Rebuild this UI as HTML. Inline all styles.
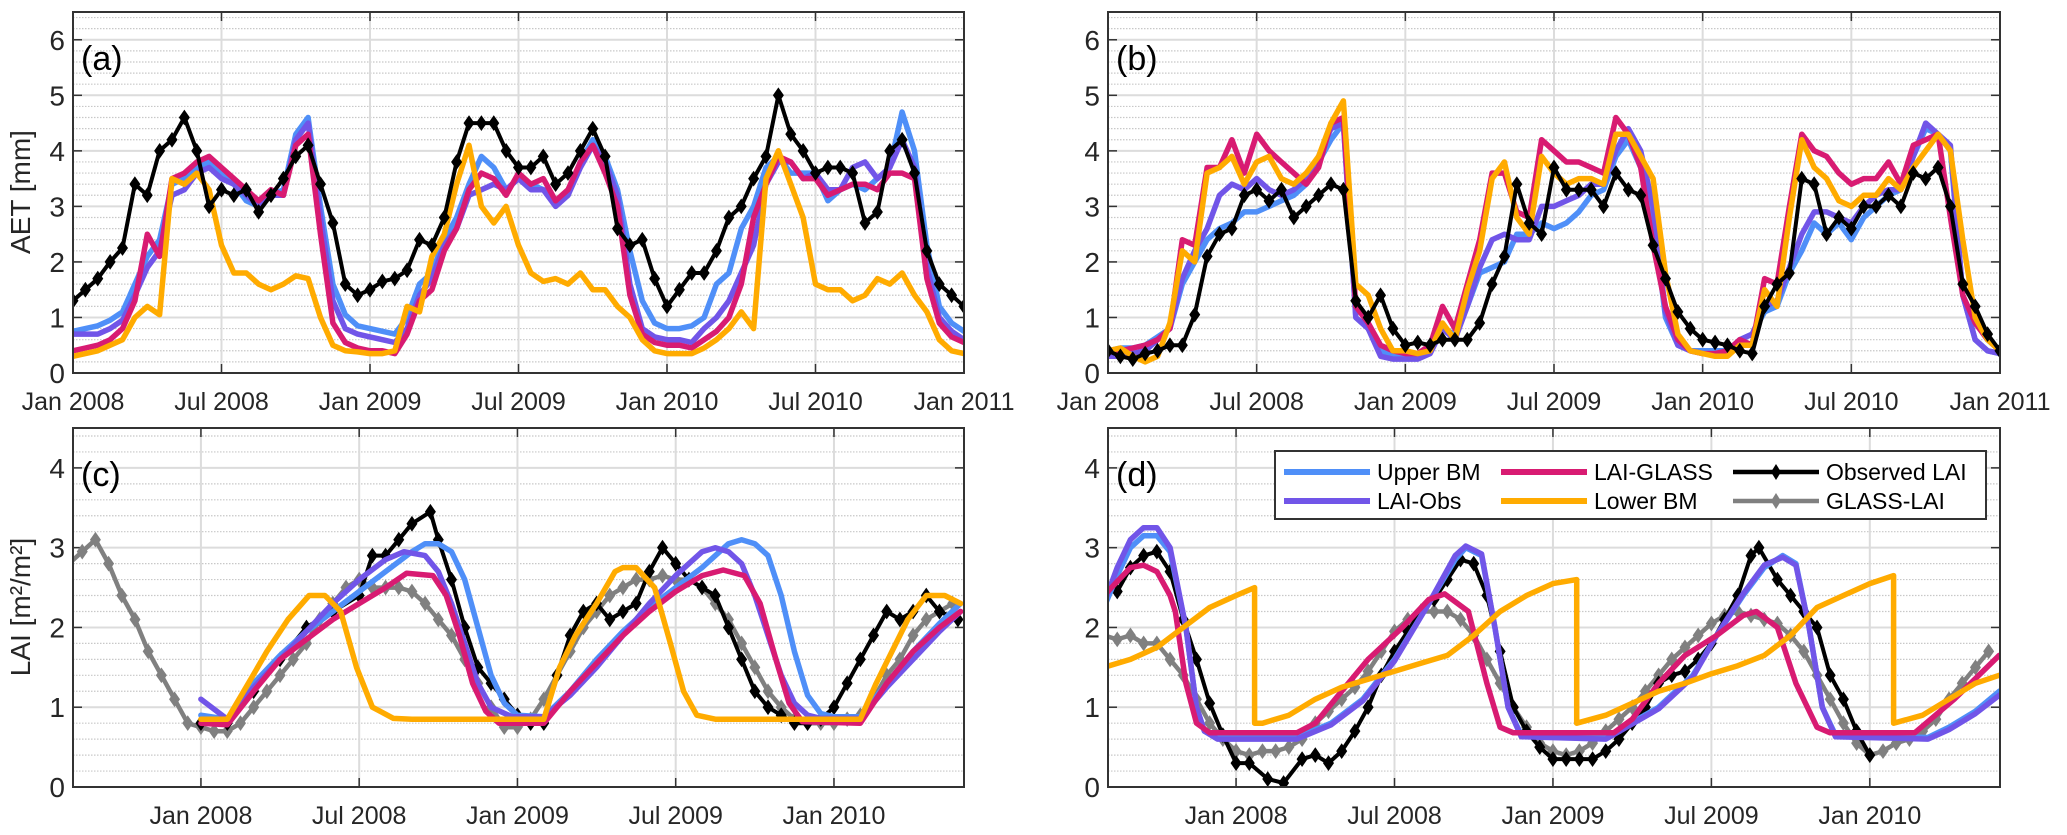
<!DOCTYPE html>
<html><head><meta charset="utf-8"><title>AET and LAI comparison</title>
<style>
html,body{margin:0;padding:0;background:#fff;}
svg{display:block;font-family:"Liberation Sans",Arial,sans-serif;}
</style></head>
<body>
<svg id="fig" width="2067" height="835" viewBox="0 0 2067 835" xmlns="http://www.w3.org/2000/svg"></svg>
<script>
// ---------- data: panels (a)/(b) AET, semi-monthly from Jan 2008 ----------
const aUpper=[.75,.8,.85,.95,1.1,1.6,2.1,2.4,3.4,3.5,3.7,3.8,3.6,3.4,3.1,3.0,3.2,3.3,4.3,4.6,3.0,1.6,1.05,.85,
 .8,.75,.7,1.0,1.6,1.8,2.4,2.8,3.4,3.9,3.7,3.3,3.5,3.4,3.3,3.1,3.2,3.8,4.2,3.9,3.3,2.2,1.3,.9,
 .8,.8,.85,1.0,1.6,1.8,2.6,3.0,3.7,3.9,3.6,3.6,3.6,3.1,3.3,3.4,3.3,3.5,3.7,4.7,4.0,2.3,1.2,.9,.75];
const aLaiObs=[.7,.7,.7,.8,.95,1.4,1.9,2.2,3.2,3.3,3.6,3.7,3.5,3.4,3.2,3.0,3.2,3.2,4.2,4.5,2.8,1.3,.8,.7,
 .65,.6,.55,.8,1.4,1.7,2.3,2.6,3.2,3.3,3.4,3.3,3.5,3.3,3.3,3.0,3.2,3.7,4.1,3.8,3.2,1.6,.8,.65,
 .6,.6,.55,.8,1.0,1.3,1.8,2.3,3.4,3.8,3.8,3.5,3.6,3.3,3.3,3.7,3.8,3.5,3.7,4.2,3.7,1.9,1.0,.75,.6];
const aLaiGlass=[.4,.45,.5,.6,.8,1.3,2.5,2.1,3.5,3.6,3.8,3.9,3.7,3.5,3.3,3.1,3.3,3.2,4.1,4.3,2.5,.9,.55,.45,
 .4,.4,.35,.7,1.3,1.5,2.2,2.6,3.3,3.6,3.5,3.2,3.6,3.4,3.5,3.1,3.3,3.8,4.1,3.6,3.0,1.4,.7,.55,
 .5,.5,.45,.6,.75,1.0,1.6,2.8,3.4,3.9,3.8,3.5,3.5,3.2,3.3,3.4,3.4,3.3,3.6,3.6,3.5,1.7,.9,.65,.55];
const aLower=[.3,.35,.4,.5,.6,1.0,1.2,1.05,3.5,3.4,3.6,3.3,2.3,1.8,1.8,1.6,1.5,1.6,1.75,1.7,1.0,.5,.4,.38,
 .35,.35,.4,1.2,1.1,2.1,2.5,3.4,4.1,3.0,2.7,3.0,2.3,1.8,1.65,1.7,1.6,1.8,1.5,1.5,1.2,1.0,.6,.4,
 .35,.35,.35,.45,.6,.8,1.1,.8,3.5,4.0,3.4,2.8,1.6,1.5,1.5,1.3,1.4,1.7,1.6,1.8,1.4,1.1,.6,.4,.35];
const aObs=[1.3,1.5,1.7,2.0,2.25,3.4,3.2,4.0,4.2,4.6,4.0,3.0,3.3,3.2,3.3,2.9,3.2,3.5,3.9,4.1,3.4,2.7,1.6,1.4,
 1.5,1.65,1.7,1.85,2.4,2.3,2.8,3.8,4.5,4.5,4.5,4.0,3.7,3.7,3.9,3.4,3.6,4.0,4.4,3.9,2.6,2.3,2.4,1.7,
 1.2,1.5,1.8,1.8,2.2,2.8,3.0,3.5,3.9,5.0,4.3,4.0,3.6,3.7,3.7,3.6,2.7,2.9,4.0,4.2,3.6,2.2,1.6,1.4,1.2];

const bUpper=[.4,.45,.45,.5,.65,.8,1.6,2.0,2.4,2.6,2.7,2.9,2.9,3.0,3.1,3.2,3.4,3.8,4.2,4.5,1.0,.8,.4,.3,
 .3,.3,.4,.8,.7,1.2,1.8,1.9,2.0,2.5,2.5,2.7,2.6,2.7,2.9,3.2,3.3,3.9,4.2,3.7,2.8,1.0,.5,.4,
 .4,.4,.4,.6,.7,1.1,1.2,1.8,2.2,2.7,2.5,2.7,2.4,2.8,3.0,3.2,3.3,3.9,4.4,4.3,4.0,1.4,.6,.4,.35];
const bLaiObs=[.3,.3,.35,.4,.6,.8,1.7,2.2,2.6,3.2,3.4,3.3,3.5,3.3,3.2,3.3,3.5,3.9,4.4,4.5,1.0,.8,.3,.25,
 .25,.25,.35,.8,.6,1.2,1.9,2.4,2.5,2.4,2.4,3.0,3.0,3.1,3.2,3.4,3.4,4.0,4.4,4.0,3.0,1.1,.5,.4,
 .35,.35,.35,.6,.7,1.2,1.3,1.9,2.5,2.9,2.9,2.8,2.7,3.0,3.2,3.3,3.3,3.9,4.5,4.3,4.1,1.4,.6,.4,.35];
const bLaiGlass=[.4,.4,.45,.5,.6,.8,2.4,2.3,3.7,3.7,4.2,3.6,4.3,4.0,3.8,3.6,3.4,3.7,4.5,4.6,1.2,.9,.5,.4,
 .35,.35,.5,1.2,.8,1.6,2.4,3.6,3.6,2.9,2.8,4.2,4.0,3.8,3.8,3.7,3.6,4.6,4.3,3.7,2.3,1.2,.6,.4,
 .35,.35,.4,.6,.5,1.7,1.6,3.0,4.3,4.0,3.9,3.6,3.4,3.5,3.5,3.8,3.4,4.1,4.2,4.3,2.8,1.4,.9,.6,.4];
const bLower=[.4,.45,.3,.2,.3,.9,2.2,2.0,3.6,3.7,3.9,3.4,3.8,3.9,3.5,3.4,3.6,3.9,4.5,4.9,1.6,1.4,.8,.4,
 .4,.35,.4,.9,.6,1.5,2.2,3.5,3.8,2.8,2.5,3.9,3.6,3.4,3.5,3.5,3.4,4.3,4.3,3.9,3.5,1.8,.7,.4,
 .35,.3,.3,.5,.5,1.5,1.2,2.8,4.2,3.7,3.5,3.1,3.0,3.2,3.2,3.5,3.3,3.7,4.0,4.3,4.0,2.4,1.0,.6,.4];
const bObs=[.4,.3,.25,.35,.4,.5,.5,1.05,2.1,2.5,2.6,3.2,3.3,3.1,3.3,2.8,3.0,3.2,3.4,3.3,1.3,1.0,1.4,.8,
 .5,.55,.5,.6,.6,.6,.9,1.6,2.1,3.4,2.7,2.5,3.7,3.3,3.3,3.3,3.0,3.6,3.3,3.2,2.3,1.7,1.1,.8,
 .6,.55,.5,.4,.35,1.2,1.6,1.8,3.5,3.4,2.5,2.8,2.6,3.0,3.0,3.2,3.0,3.6,3.5,3.7,3.0,1.6,1.2,.7,.4];

// ---------- data: panels (c)/(d) LAI; times in months from Jan 2008 ----------
const cGlassT=[-5,-4.5,-4,-3.5,-3,-2.5,-2,-1.5,-1,-0.5,0,0.5,1,1.5,2,2.5,3,3.5,4,4.5,5,5.5,6,6.5,7,7.5,8,8.5,9,9.5,10,10.5,11,11.5,12,12.5,13,13.5,14,14.5,15,15.5,16,16.5,17,17.5,18,18.5,19,19.5,20,20.5,21,21.5,22,22.5,23,23.5,24,24.5,25,25.5,26,26.5,27,27.5,28,28.5];
const cGlassV=[2.8,2.95,3.1,2.8,2.4,2.1,1.7,1.4,1.1,.8,.75,.7,.7,.8,1.0,1.2,1.4,1.6,1.8,2.1,2.3,2.5,2.6,2.5,2.5,2.5,2.45,2.3,2.1,1.9,1.6,1.3,1.0,.75,.75,.85,1.1,1.4,1.7,2.0,2.2,2.4,2.5,2.6,2.6,2.65,2.6,2.6,2.5,2.3,2.1,1.8,1.5,1.2,1.0,.85,.8,.8,.8,.85,.9,1.1,1.4,1.6,1.9,2.1,2.2,2.3];
const cObsT=[0,1,2,3,4,5,6,6.5,7,7.5,8,8.7,9,9.5,10,10.5,11,11.5,12,12.5,13,13.5,14,14.5,15,15.5,16,16.5,17,17.5,18,18.5,19,19.5,20,20.5,21,21.5,22,22.5,23,23.5,24,24.5,25,25.5,26,26.5,27,27.5,28,28.7];
const cObsV=[.8,.8,1.2,1.6,2.0,2.2,2.4,2.9,2.9,3.1,3.3,3.45,3.1,2.6,2.0,1.5,1.3,1.1,.9,.8,.8,1.4,1.9,2.2,2.3,2.1,2.2,2.3,2.7,3.0,2.8,2.6,2.5,2.4,2.0,1.6,1.2,1.0,.9,.8,.8,.85,1.0,1.3,1.6,1.9,2.2,2.1,2.2,2.4,2.2,2.1];
const cUpperT=[0,1,2,3,4,5,6,7,8,8.5,9,9.5,10,10.5,11,11.5,12,13,14,15,16,17,18,19,20,20.5,21,21.5,22,22.5,23,23.5,24,25,26,27,28,28.8];
const cUpperV=[.9,.85,1.3,1.65,1.95,2.2,2.45,2.7,2.95,3.05,3.05,2.95,2.6,2.0,1.4,1.05,.9,.88,1.2,1.6,1.95,2.25,2.5,2.75,3.05,3.1,3.05,2.9,2.4,1.7,1.15,.92,.88,.88,1.3,1.7,2.05,2.3];
const cLaiObsT=[0,1,2,3,4,5,6,7,7.7,8.5,9,9.5,10,10.5,11,11.8,13,14,15,16,17,18,19,19.5,20,20.5,21,21.5,22,22.5,23,23.5,25,26,27,28,28.8];
const cLaiObsV=[1.1,.85,1.25,1.6,1.95,2.3,2.6,2.85,2.95,2.9,2.7,2.3,1.8,1.3,1.0,.88,.88,1.15,1.5,1.9,2.3,2.65,2.95,3.0,2.95,2.8,2.4,1.9,1.4,1.05,.9,.86,.86,1.25,1.6,1.95,2.2];
const cLaiGlassT=[0,1,2,3,4,5,6,7,7.8,8.8,9.3,9.8,10.3,10.8,11.3,13,14,15,16,17,18,19,19.8,20.6,21.2,21.8,22.3,22.8,25,26,27,28,28.8];
const cLaiGlassV=[.8,.78,1.2,1.6,1.85,2.1,2.3,2.5,2.68,2.65,2.4,1.9,1.3,.95,.8,.8,1.2,1.55,1.9,2.2,2.45,2.65,2.72,2.65,2.3,1.6,1.05,.82,.8,1.3,1.7,2.0,2.2];
const cLowerT=[0,1,1.8,2.5,3.3,4.1,4.7,5.3,5.9,6.5,7.3,8,13,13.6,14.2,15,15.7,16,16.5,17.2,17.8,18.3,18.8,19.5,25,25.6,26.2,26.8,27.5,28.2,28.8];
const cLowerV=[.85,.85,1.3,1.7,2.1,2.4,2.4,2.2,1.5,1.0,.86,.85,.85,1.5,1.9,2.3,2.7,2.75,2.75,2.5,1.8,1.2,.9,.85,.85,1.3,1.7,2.1,2.4,2.4,2.3];

const dGlassT=cGlassT;
const dGlassV=[1.9,1.85,1.9,1.8,1.8,1.6,1.4,1.1,.8,.6,.45,.4,.45,.45,.5,.6,.8,.95,1.1,1.25,1.45,1.7,1.95,2.1,2.2,2.2,2.2,2.1,1.9,1.6,1.3,1.0,.75,.55,.45,.4,.45,.55,.7,.85,1.0,1.2,1.4,1.6,1.75,1.9,2.05,2.15,2.2,2.15,2.1,2.05,1.9,1.7,1.4,1.1,.8,.55,.4,.45,.55,.6,.7,.85,1.1,1.3,1.5,1.7];
const dObsT=[-5,-4.5,-4,-3.5,-3,-2.5,-2,-1.5,-1,-0.5,0,0.5,1.2,1.8,2.5,3,3.5,4,4.5,5,5.5,6,6.5,7,7.5,8,8.5,9,9.5,10,10.5,11,11.5,12,12.5,13,13.5,14,14.5,15,15.5,16,16.5,17,17.5,18,18.5,19,19.5,19.8,20.5,21,21.5,22,22.5,23,23.5,24];
const dObsV=[2.45,2.45,2.75,2.9,2.95,2.7,2.1,1.6,1.05,.65,.3,.3,.1,.05,.35,.4,.3,.45,.7,1.0,1.4,1.7,1.95,2.2,2.35,2.6,2.85,2.8,2.4,1.7,1.0,.7,.5,.35,.35,.35,.35,.45,.6,.8,1.0,1.3,1.4,1.45,1.6,1.8,2.1,2.4,2.9,3.0,2.6,2.4,2.2,2.0,1.4,1.1,.7,.4];
const dUpperT=[-5,-4.5,-4,-3.5,-3,-2.5,-1.9,-1.5,-1.2,-0.7,2.3,3.6,4.8,6,7.3,8.3,8.7,9.3,9.8,10.3,10.8,14,16,17.3,18.2,19.2,20,20.7,21.2,21.7,22.2,22.7,26.2,27,28,28.9];
const dUpperV=[2.25,2.65,3.0,3.15,3.15,2.95,2.0,1.0,.7,.62,.62,.8,1.1,1.6,2.3,2.85,3.0,2.9,2.0,1.0,.65,.62,1.0,1.4,1.9,2.4,2.75,2.9,2.8,2.0,1.0,.65,.62,.75,.95,1.2];
const dLaiObsV=[2.3,2.75,3.1,3.25,3.25,3.0,2.0,1.0,.7,.6,.6,.78,1.08,1.58,2.3,2.9,3.02,2.92,2.0,1.0,.63,.6,.98,1.38,1.9,2.42,2.78,2.88,2.78,2.0,1.0,.63,.6,.72,.92,1.15];
const dLaiGlassT=[-5,-4,-3.5,-3,-2.5,-2.3,-1.9,-1.5,-1,2.3,3,4,5,6.3,7.3,7.9,8.8,9.5,10,10.5,14.3,15,16,17,18.2,19.2,19.7,20.5,21.2,22,22.5,25.7,27.2,28.9];
const dLaiGlassV=[2.4,2.75,2.78,2.7,2.4,2.2,1.3,.8,.68,.68,.8,1.2,1.6,2.0,2.35,2.42,2.2,1.3,.75,.68,.68,.85,1.3,1.65,1.9,2.15,2.2,2.0,1.3,.75,.68,.68,1.1,1.65];
const dLowerT=[-5,-4,-3,-2,-1,0,0.7,0.7,1,2,3,4,5,6,7,8,9,10,11,12,12.9,12.9,14,15,16,17,18,19,20,21,22,23,24,24.9,24.9,26,27,28,28.9];
const dLowerV=[1.5,1.6,1.75,2.0,2.25,2.4,2.5,.8,.8,.9,1.1,1.25,1.35,1.45,1.55,1.65,1.9,2.2,2.4,2.55,2.6,.8,.9,1.05,1.2,1.3,1.42,1.52,1.65,1.9,2.25,2.4,2.55,2.65,.8,.9,1.1,1.3,1.4];

const aebTickLabels=['Jan 2008','Jul 2008','Jan 2009','Jul 2009','Jan 2010','Jul 2010','Jan 2011'];
const aebTickMonths=[0,6,12,18,24,30,36];
const cdTickLabels=['Jan 2008','Jul 2008','Jan 2009','Jul 2009','Jan 2010'];
const cdTickMonths=[0,6,12,18,24];
const aetYTicks=[0,1,2,3,4,5,6];
const laiYTicks=[0,1,2,3,4];

// ---------- drawing ----------
const NS='http://www.w3.org/2000/svg';
const svg=document.getElementById('fig');
function mk(tag,attrs,parent){const e=document.createElementNS(NS,tag);for(const k in attrs)e.setAttribute(k,attrs[k]);(parent||svg).appendChild(e);return e;}
const COL={upper:'#4f8ff8',laiobs:'#7155e8',laiglass:'#d81b72',lower:'#ffab00',obs:'#000000',glass:'#808080'};

function makeAxes(p){
  const g=mk('g',{});
  
  
  const X=t=>p.x0+(t-p.t0)/(p.t1-p.t0)*(p.x1-p.x0);
  const Y=v=>p.y1-(v-p.v0)/(p.v1-p.v0)*(p.y1-p.y0);
  p.X=X;p.Y=Y;p.g=g;
  for(let v=0.2;v<p.v1-1e-6;v+=0.2){
    if(Math.abs(v-Math.round(v))<1e-6)continue;
    const l=mk('line',{x1:p.x0,x2:p.x1,y1:Y(v),y2:Y(v),stroke:'#c8c8c8','stroke-width':1.2,'stroke-dasharray':'1.5,1.5'},g);
    
    
  }
  p.yticks.forEach(v=>{
    const l=mk('line',{x1:p.x0,x2:p.x1,y1:Y(v),y2:Y(v),stroke:'#dcdcdc','stroke-width':2},g);
    
    
    mk('line',{x1:p.x0,x2:p.x0+9,y1:Y(v),y2:Y(v),stroke:'#333','stroke-width':1.5},g);
    mk('line',{x1:p.x1,x2:p.x1-9,y1:Y(v),y2:Y(v),stroke:'#333','stroke-width':1.5},g);
    const t=mk('text',{x:p.x0-8,y:Y(v)+10,'text-anchor':'end','font-size':28,fill:'#262626'},g);
    t.textContent=v;
    
    
  });
  p.xtm.forEach((m,i)=>{
    const x=X(m);
    const l=mk('line',{x1:x,x2:x,y1:p.y0,y2:p.y1,stroke:'#dcdcdc','stroke-width':2},g);
    
    
    mk('line',{x1:x,x2:x,y1:p.y1,y2:p.y1-9,stroke:'#333','stroke-width':1.5},g);
    mk('line',{x1:x,x2:x,y1:p.y0,y2:p.y0+9,stroke:'#333','stroke-width':1.5},g);
    const t=mk('text',{x:x,y:p.y1+37,'text-anchor':'middle','font-size':25,fill:'#262626'},g);
    t.textContent=p.xtl[i];
    
    
  });
  const cp=mk('clipPath',{id:'clip-'+p.name},svg);
  mk('rect',{x:p.x0,y:p.y0,width:p.x1-p.x0,height:p.y1-p.y0},cp);
  p.plot=mk('g',{'clip-path':'url(#clip-'+p.name+')'},g);
  return p;
}
function finishAxes(p){
  const b=mk('rect',{x:p.x0,y:p.y0,width:p.x1-p.x0,height:p.y1-p.y0,fill:'none',stroke:'#333','stroke-width':2},p.g);
  
  
  const t=mk('text',{x:p.x0+8,y:p.y0+58,'font-size':34,fill:'#000'},p.g);
  t.textContent=p.letter;
  
  
}
function line(p,ts,vs,col,w,nm,marker,mcol){
  let d='';
  vs.forEach((v,i)=>{d+=(i?'L':'M')+p.X(ts[i]).toFixed(1)+','+p.Y(v).toFixed(1);});
  const pl=mk('path',{d:d,fill:'none',stroke:col,'stroke-width':w,'stroke-linejoin':'round','stroke-linecap':'round'},p.plot);
  
  
  if(marker){
    vs.forEach((v,i)=>{
      const x=p.X(ts[i]),y=p.Y(v),s=7;
      const m=mk('path',{d:`M${x},${y-s}L${x+s*0.7},${y}L${x},${y+s}L${x-s*0.7},${y}Z`,fill:mcol,stroke:mcol,'stroke-width':1},p.plot);
      
      
    });
  }
}
const months=[];for(let i=0;i<73;i++)months.push(i/2);

const pa=makeAxes({name:'panel-a',letter:'(a)',x0:73,x1:964,y0:12,y1:373,t0:0,t1:36,v0:0,v1:6.5,yticks:aetYTicks,xtm:aebTickMonths,xtl:aebTickLabels});
const pb=makeAxes({name:'panel-b',letter:'(b)',x0:1108,x1:2000,y0:12,y1:373,t0:0,t1:36,v0:0,v1:6.5,yticks:aetYTicks,xtm:aebTickMonths,xtl:aebTickLabels});
const pc=makeAxes({name:'panel-c',letter:'(c)',x0:73,x1:964,y0:428,y1:787,t0:-4.85,t1:28.93,v0:0,v1:4.5,yticks:laiYTicks,xtm:cdTickMonths,xtl:cdTickLabels});
const pd=makeAxes({name:'panel-d',letter:'(d)',x0:1108,x1:2000,y0:428,y1:787,t0:-4.85,t1:28.93,v0:0,v1:4.5,yticks:laiYTicks,xtm:cdTickMonths,xtl:cdTickLabels});

const MW=5.5;
line(pa,months,aUpper,COL.upper,MW,'upper-bm-line');
line(pa,months,aLaiObs,COL.laiobs,MW,'lai-obs-line');
line(pa,months,aLaiGlass,COL.laiglass,MW,'lai-glass-line');
line(pa,months,aLower,COL.lower,MW,'lower-bm-line');
line(pa,months,aObs,COL.obs,4,'observed-line',true,'#000');

line(pb,months,bUpper,COL.upper,MW,'upper-bm-line');
line(pb,months,bLaiObs,COL.laiobs,MW,'lai-obs-line');
line(pb,months,bLaiGlass,COL.laiglass,MW,'lai-glass-line');
line(pb,months,bLower,COL.lower,MW,'lower-bm-line');
line(pb,months,bObs,COL.obs,4,'observed-line',true,'#000');

line(pc,cGlassT,cGlassV,COL.glass,4.5,'glass-lai-line',true,'#808080');
line(pc,cObsT,cObsV,COL.obs,4,'observed-lai-line',true,'#000');
line(pc,cUpperT,cUpperV,COL.upper,MW,'upper-bm-line');
line(pc,cLaiObsT,cLaiObsV,COL.laiobs,MW,'lai-obs-line');
line(pc,cLaiGlassT,cLaiGlassV,COL.laiglass,MW,'lai-glass-line');
line(pc,cLowerT,cLowerV,COL.lower,MW,'lower-bm-line');

line(pd,dGlassT,dGlassV,COL.glass,4.5,'glass-lai-line',true,'#808080');
line(pd,dObsT,dObsV,COL.obs,4,'observed-lai-line',true,'#000');
line(pd,dUpperT,dUpperV,COL.upper,MW,'upper-bm-line');
line(pd,dUpperT,dLaiObsV,COL.laiobs,MW,'lai-obs-line');
line(pd,dLaiGlassT,dLaiGlassV,COL.laiglass,MW,'lai-glass-line');
line(pd,dLowerT,dLowerV,COL.lower,MW,'lower-bm-line');

[pa,pb,pc,pd].forEach(finishAxes);

let yt=mk('text',{x:0,y:0,'font-size':28,fill:'#262626','text-anchor':'middle',transform:'translate(30,192) rotate(-90)'});
yt.textContent='AET [mm]';


yt=mk('text',{x:0,y:0,'font-size':28,fill:'#262626','text-anchor':'middle',transform:'translate(30,607) rotate(-90)'});
yt.textContent='LAI [m²/m²]';



// legend
const lg=mk('g',{});


mk('rect',{x:1275,y:451,width:711,height:68,fill:'#fff',stroke:'#333','stroke-width':2},lg);
const legNames=['Upper BM','LAI-GLASS','Observed LAI','LAI-Obs','Lower BM','GLASS-LAI'];
const legCols=[COL.upper,COL.laiglass,COL.obs,COL.laiobs,COL.lower,COL.glass];
const legX=[1284,1501,1733];
legNames.forEach((n,i)=>{
  const c=i%3,r=Math.floor(i/3),x=legX[c],y=r?501:472;
  const e=mk('g',{},lg);
  
  
  mk('line',{x1:x,x2:x+86,y1:y,y2:y,stroke:legCols[i],'stroke-width':(c===2?4.5:6)},e);
  if(c===2){const mx=x+43;mk('path',{d:`M${mx},${y-8}L${mx+5},${y}L${mx},${y+8}L${mx-5},${y}Z`,fill:legCols[i]},e);}
  const t=mk('text',{x:x+93,y:y+8,'font-size':23,fill:'#000'},e);
  t.textContent=n;
});
</script>
</body></html>
